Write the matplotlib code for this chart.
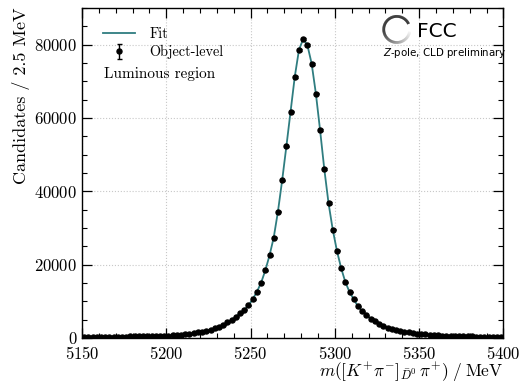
import numpy as np
import matplotlib
matplotlib.use("Agg")
import matplotlib.pyplot as plt
from matplotlib.ticker import MultipleLocator

plt.rcParams['font.family'] = 'serif'
plt.rcParams['font.serif'] = ['cmr10', 'DejaVu Serif']
plt.rcParams['mathtext.fontset'] = 'cm'
plt.rcParams['axes.formatter.use_mathtext'] = True
plt.rcParams['axes.unicode_minus'] = False

# ---- data ----
bin_width = 2.5
mass_low, mass_high = 5150, 5400
counts = [
    280, 290, 300, 310, 320, 330, 345, 360, 375, 390,
    405, 420, 440, 460, 480, 505, 530, 560, 590, 615,
    640, 700, 780, 880, 1000, 1150, 1320, 1500, 1720, 1980,
    2280, 2640, 3080, 3600, 4230, 4980, 5850, 6780, 7720, 8900,
    10550, 12600, 15050, 18420, 22500, 27400, 34470, 42990, 52245, 61770,
    71290, 78640, 81550, 79800, 74830, 66670, 56680, 46070, 36820, 29580,
    23760, 19050, 15240, 12520, 10530, 8620, 7260, 6170, 5260, 4530,
    3810, 3270, 2800, 2450, 2150, 1900, 1680, 1500, 1340, 1200,
    1080, 980, 890, 810, 740, 680, 630, 580, 540, 500,
    470, 440, 415, 390, 370, 350, 330, 315, 300, 285,
]
x_ticks = [5150, 5200, 5250, 5300, 5350, 5400]
y_ticks = [0, 20000, 40000, 60000, 80000]

counts = np.array(counts, dtype=float)
centers = mass_low + bin_width / 2 + bin_width * np.arange(len(counts))

fig = plt.figure(figsize=(5.31, 3.84), dpi=100)
ax = fig.add_axes([0.1544, 0.1198, 0.7936, 0.8594])

fit_color = '#2f7d80'
ax.plot(centers, counts, color=fit_color, lw=1.3, label='Fit', zorder=2)
ax.errorbar(centers, counts, yerr=np.sqrt(counts), fmt='o', color='black',
            ms=3.6, elinewidth=1.0, capsize=1.8, capthick=1.0,
            label='Object-level', zorder=3)

ax.set_xlim(mass_low, mass_high)
ax.set_ylim(0, 90000)
ax.set_xticks(x_ticks)
ax.set_yticks(y_ticks)
ax.xaxis.set_minor_locator(MultipleLocator(10))
ax.yaxis.set_minor_locator(MultipleLocator(5000))
ax.tick_params(which='both', direction='in', top=True, right=True, labelsize=12)
ax.tick_params(which='major', length=7, width=0.9)
ax.tick_params(which='minor', length=3.5, width=0.8)
ax.tick_params(axis='x', pad=5)
ax.grid(True, which='major', ls=':', color='#c8c8c8', lw=0.8)
ax.set_axisbelow(True)
for s in ax.spines.values():
    s.set_linewidth(1.0)

ax.set_xlabel(r'$m([K^{+}\pi^{-}]_{\bar{D}^0}\,\pi^{+})\;/\;\mathrm{MeV}$', fontsize=12.5,
              loc='right', labelpad=-1)
ax.set_ylabel(r'Candidates / 2.5 MeV', fontsize=13, loc='top', labelpad=3)

leg = ax.legend(loc='upper left', bbox_to_anchor=(0.017, 0.985), frameon=False,
                fontsize=10.3, handlelength=2.2, handletextpad=1.0,
                borderaxespad=0.6, labelspacing=0.3)
ax.text(0.053, 0.80, 'Luminous region', transform=ax.transAxes, fontsize=11,
        ha='left', va='center')

# FCC logo: gradient ring
cx, cy, r = 0.747, 0.935, 0.031
aspect = (ax.get_position().width * 531) / (ax.get_position().height * 384)
theta = np.linspace(np.deg2rad(25), np.deg2rad(25 + 325), 140)
n = len(theta) - 1
for i in range(n):
    t0, t1 = theta[i], theta[i + 1]
    frac = i / (n - 1)
    if frac < 0.5:
        c = 0.0
    else:
        c = min(0.95, (frac - 0.5) / 0.5 * 0.95)
    ax.plot([cx + r * np.cos(t0), cx + r * np.cos(t1)],
            [cy + r * aspect * np.sin(t0), cy + r * aspect * np.sin(t1)],
            transform=ax.transAxes, color=(c, c, c), lw=2.0,
            solid_capstyle='butt', zorder=5, clip_on=False)
ax.text(0.795, 0.930, 'FCC', transform=ax.transAxes, fontsize=14.5,
        family='DejaVu Sans', ha='left', va='center')
ax.text(1.009, 0.864, r'$\mathit{Z}$-pole, CLD preliminary', transform=ax.transAxes,
        fontsize=7.4, family='DejaVu Sans', ha='right', va='center',
        math_fontfamily='dejavusans')

fig.savefig('out.png', dpi=100)
